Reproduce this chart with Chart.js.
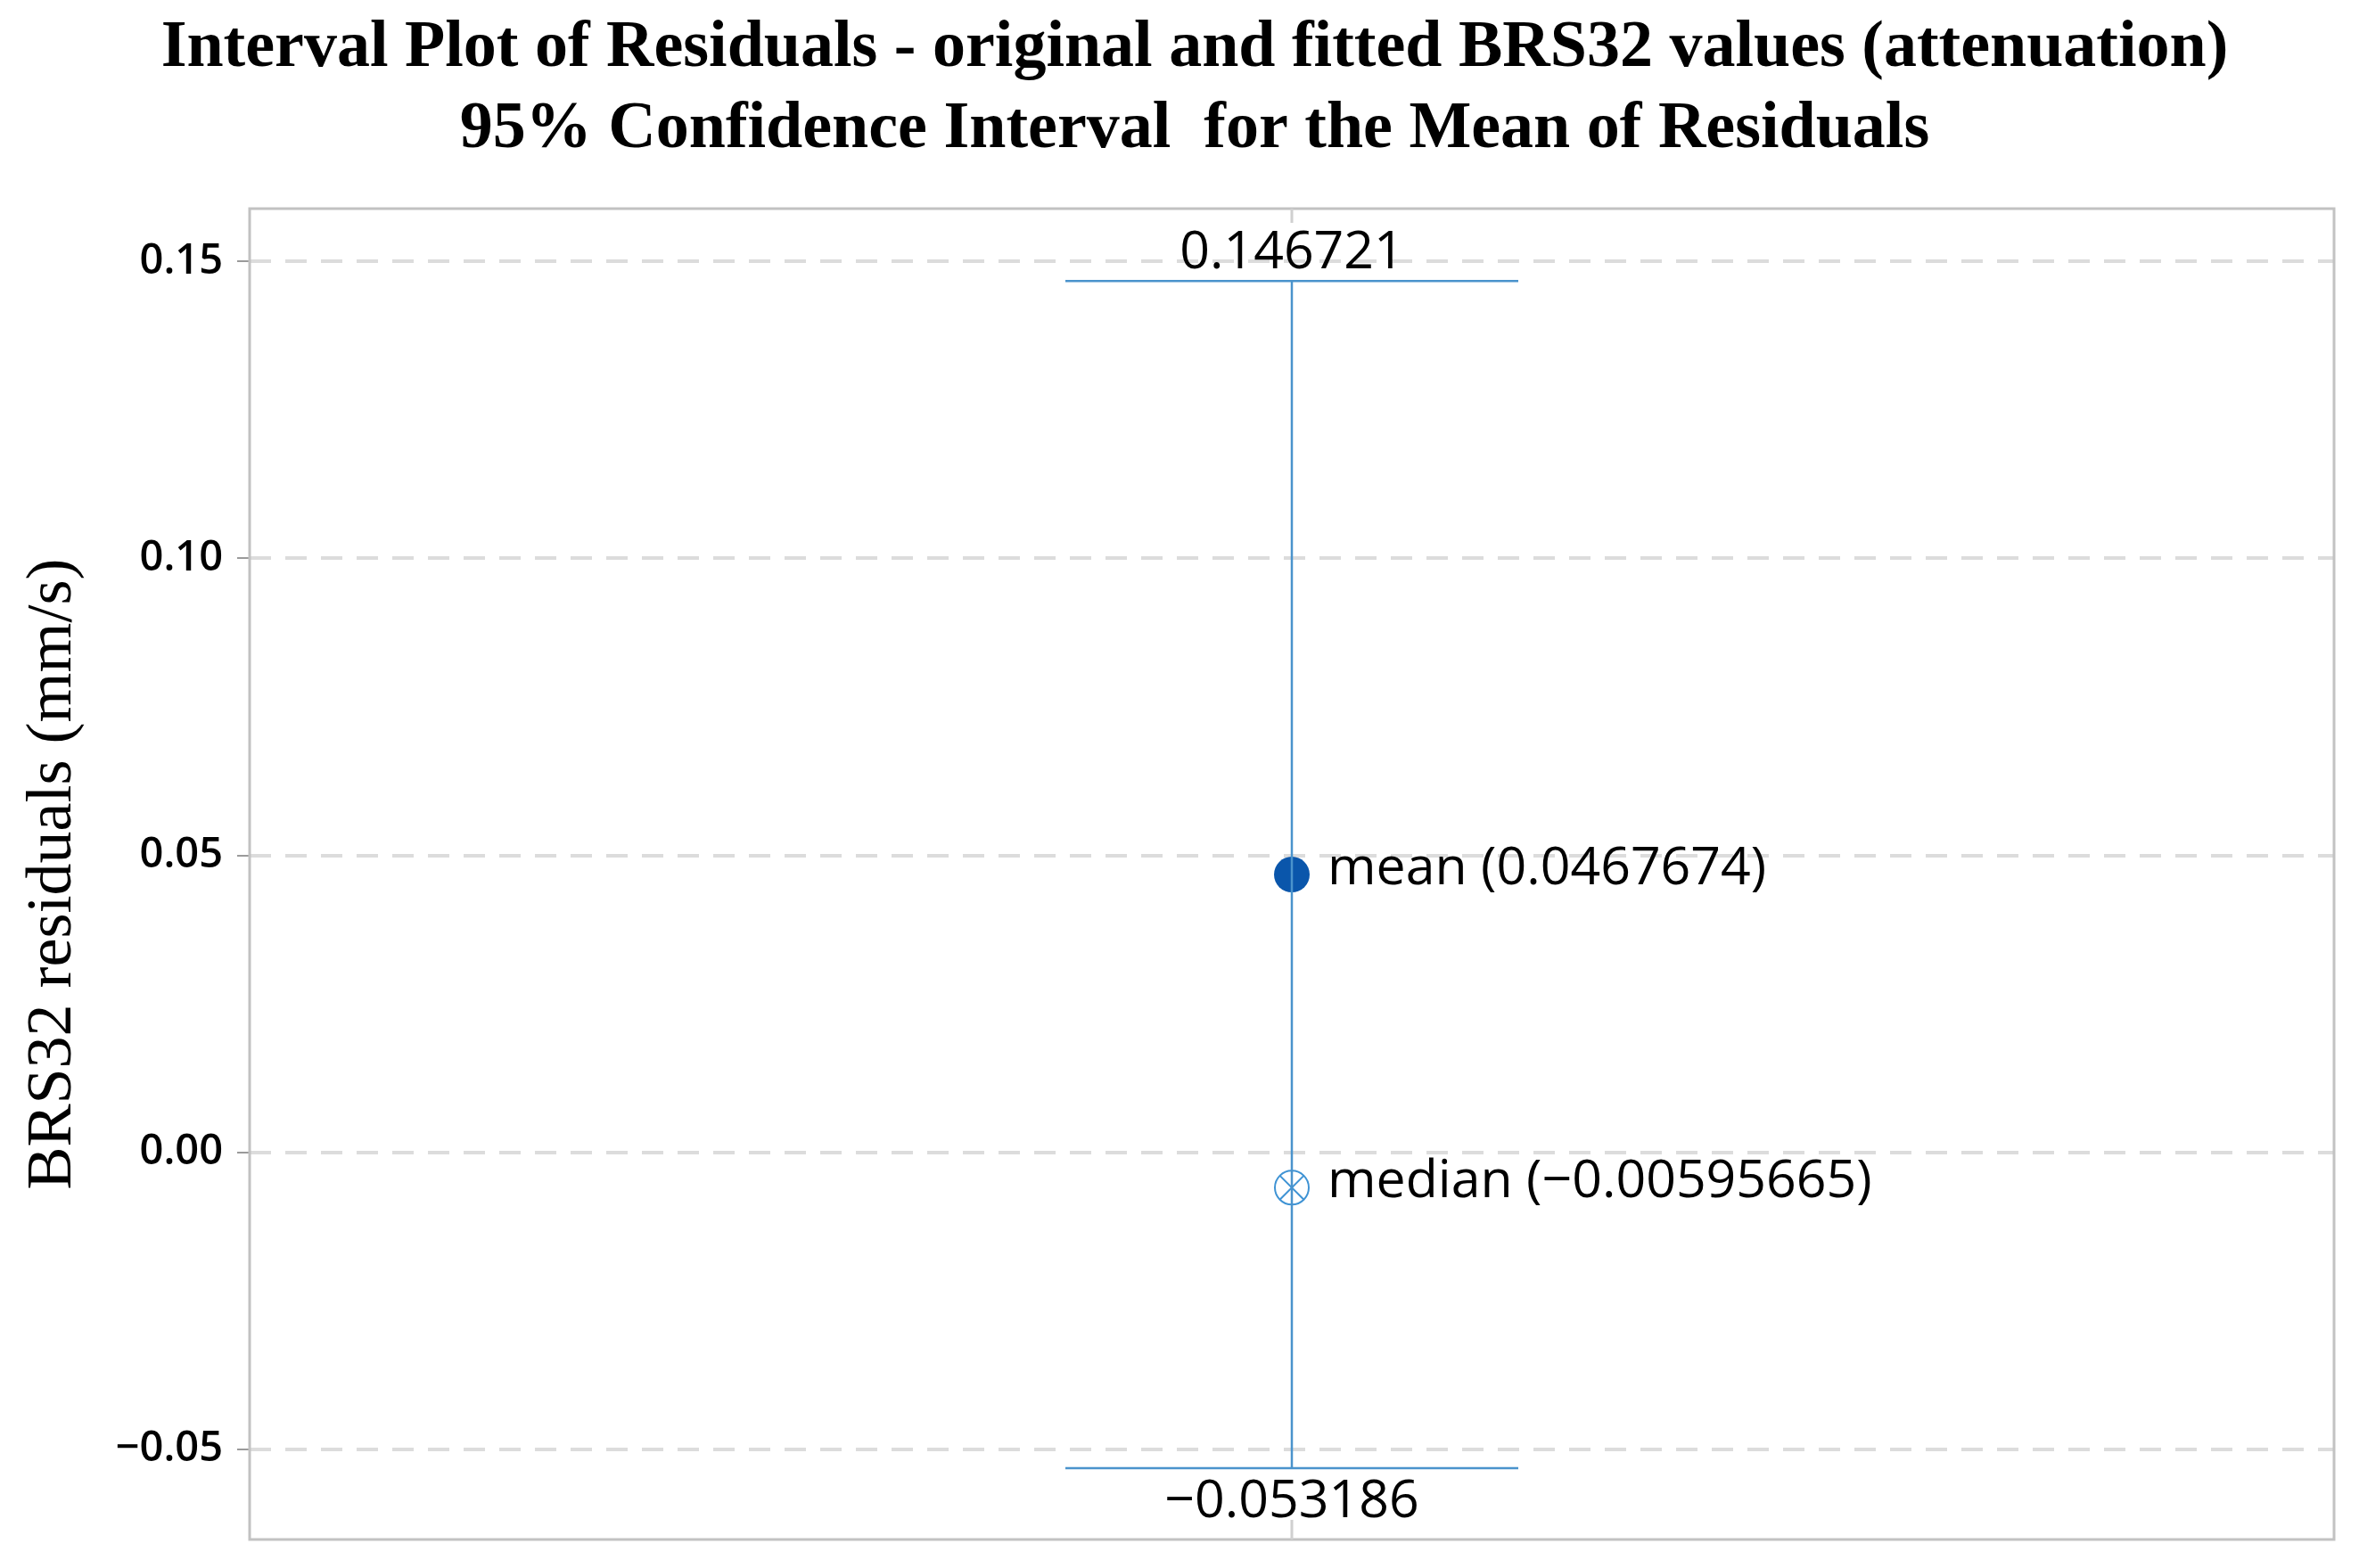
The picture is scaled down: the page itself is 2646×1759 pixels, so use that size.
<!DOCTYPE html>
<html><head><meta charset="utf-8">
<script src="https://cdn.jsdelivr.net/npm/chart.js@4.4.1/dist/chart.umd.min.js"></script>
<style>html,body{margin:0;padding:0;background:#fff;} #wrap{width:2646px;height:1759px;}</style>
</head><body><div id="wrap"><canvas id="c" width="2646" height="1759"></canvas></div>
<script>
// ---- data ----
const titleLines = ['Interval Plot of Residuals - original and fitted BRS32 values (attenuation)',
                    '95% Confidence Interval  for the Mean of Residuals'];
const yAxisTitle = 'BRS32 residuals (mm/s)';
const categories = ['BRS32'];
const ciUpper = [0.146721];
const ciLower = [-0.053186];
const meanValues = [0.0467674];
const medianValues = [-0.00595665];
const upperLabels = ['0.146721'];
const lowerLabels = ['\u22120.053186'];
const meanLabels = ['mean (0.0467674)'];
const medianLabels = ['median (\u22120.00595665)'];
const tickValues = [-0.05, 0, 0.05, 0.10, 0.15];
const tickLabels = ['\u22120.05', '0.00', '0.05', '0.10', '0.15'];
const yMin = -0.0652, yMax = 0.1589;

// ---- styles ----
const LINE_BLUE = '#4a93cc';
const MEAN_BLUE = '#0a56ab';
const MEDIAN_BLUE = '#3f93d4';
const ANNOT_FONT = '59px "Open Sans"';

const intervalData = [];
categories.forEach((c, i) => {
  intervalData.push({x: c, y: ciLower[i]});
  intervalData.push({x: c, y: ciUpper[i]});
});

const framePlugin = {
  id: 'frame',
  afterLayout(chart) {
    if (chart.titleBlock) chart.titleBlock.left = 62;
  },
  beforeDatasetsDraw(chart) {
    const {ctx, chartArea: a, scales} = chart;
    ctx.save();
    ctx.strokeStyle = '#c2c2c2';
    ctx.lineWidth = 3;
    ctx.strokeRect(a.left, a.top, a.right - a.left, a.bottom - a.top);
    ctx.strokeStyle = '#d0d0d0';
    ctx.lineWidth = 3;
    categories.forEach((c, i) => {
      const x = scales.x.getPixelForValue(i);
      ctx.beginPath();
      ctx.moveTo(x, a.top); ctx.lineTo(x, a.top + 16);
      ctx.moveTo(x, a.bottom); ctx.lineTo(x, a.bottom - 22);
      ctx.stroke();
    });
    ctx.restore();
  },
  afterDatasetsDraw(chart) {
    const {ctx, scales} = chart;
    ctx.save();
    ctx.fillStyle = '#000';
    ctx.font = ANNOT_FONT;
    ctx.textBaseline = 'alphabetic';
    categories.forEach((c, i) => {
      const x = scales.x.getPixelForValue(i);
      ctx.textAlign = 'center';
      ctx.fillText(upperLabels[i], x, scales.y.getPixelForValue(ciUpper[i]) - 14);
      ctx.fillText(lowerLabels[i], x, scales.y.getPixelForValue(ciLower[i]) + 55);
      ctx.textAlign = 'left';
      ctx.fillText(meanLabels[i], x + 40, scales.y.getPixelForValue(meanValues[i]) + 11);
      ctx.fillText(medianLabels[i], x + 40, scales.y.getPixelForValue(medianValues[i]) + 11);
    });
    ctx.restore();
  }
};

new Chart(document.getElementById('c'), {
  type: 'line',
  data: {
    labels: categories,
    datasets: [
      {
        label: 'interval',
        data: intervalData,
        borderColor: LINE_BLUE,
        borderWidth: 2.5,
        pointStyle: 'line',
        pointRadius: 254,
        pointHoverRadius: 254,
        pointBorderWidth: 2.5,
        pointBorderColor: LINE_BLUE,
        fill: false
      },
      {
        label: 'median-circle',
        data: medianValues,
        showLine: false,
        pointStyle: 'circle',
        pointRadius: 19,
        pointBorderWidth: 2,
        pointBorderColor: MEDIAN_BLUE,
        pointBackgroundColor: 'rgba(255,255,255,0)'
      },
      {
        label: 'median-cross',
        data: medianValues,
        showLine: false,
        pointStyle: 'crossRot',
        pointRadius: 19,
        pointBorderWidth: 2,
        pointBorderColor: MEDIAN_BLUE
      },
      {
        label: 'mean',
        data: meanValues,
        showLine: false,
        pointStyle: 'circle',
        pointRadius: 20,
        pointBorderWidth: 0,
        pointBackgroundColor: MEAN_BLUE,
        pointBorderColor: MEAN_BLUE
      }
    ]
  },
  options: {
    responsive: false,
    animation: false,
    devicePixelRatio: 1,
    layout: {autoPadding: false, padding: {left: 0, right: 28, top: 0, bottom: 32}},
    plugins: {
      legend: {display: false},
      tooltip: {enabled: false},
      title: {
        display: true,
        text: titleLines,
        color: '#000',
        font: {family: '"Liberation Serif", "Times New Roman", serif', size: 74, weight: 'bold', lineHeight: 1.23},
        padding: {top: 9, bottom: 43}
      }
    },
    scales: {
      x: {
        type: 'category',
        display: false,
        offset: true
      },
      y: {
        type: 'linear',
        min: yMin,
        max: yMax,
        afterBuildTicks(scale) { scale.ticks = tickValues.map(v => ({value: v})); },
        afterFit(scale) { scale.width = 280; scale.paddingTop = 0; scale.paddingBottom = 0; },
        ticks: {
          color: '#000',
          padding: 16,
          font: {family: '"Open Sans", sans-serif', size: 47, weight: 600},
          callback(value) {
            const idx = tickValues.findIndex(v => Math.abs(v - value) < 1e-9);
            return idx >= 0 ? tickLabels[idx] : '';
          }
        },
        grid: {
          color: '#dcdcdc',
          lineWidth: 4,
          tickLength: 14,
          tickWidth: 2,
          tickColor: '#9a9a9a'
        },
        border: {display: false, dash: [24, 16]},
        title: {
          display: true,
          text: yAxisTitle,
          color: '#000',
          font: {family: '"Liberation Serif", "Times New Roman", serif', size: 72, weight: 'normal', lineHeight: 1.2},
          padding: {top: 17, bottom: 0}
        }
      }
    }
  },
  plugins: [framePlugin]
});
</script>
</body></html>
